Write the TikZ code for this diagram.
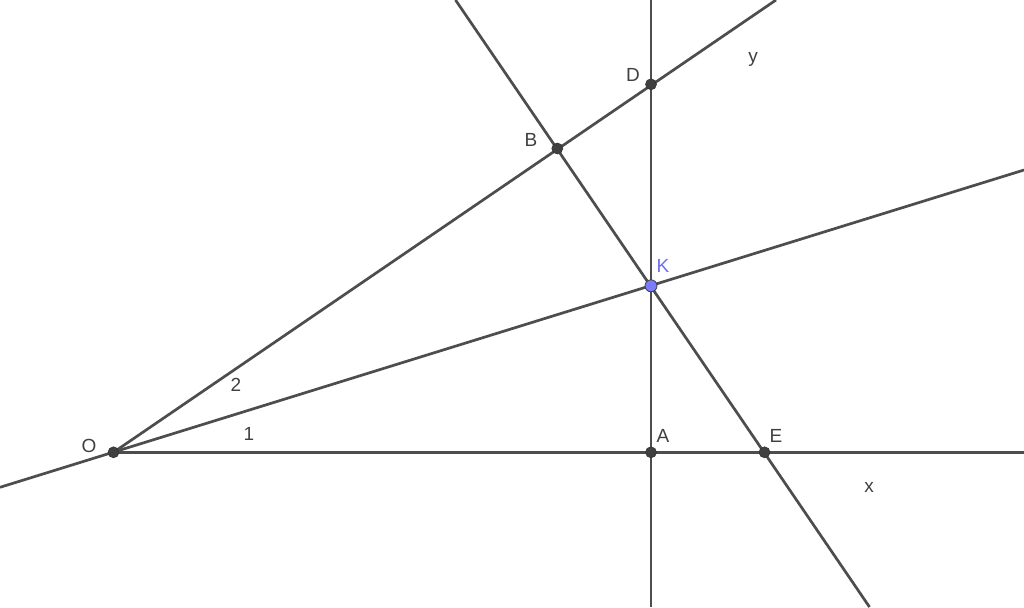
\documentclass[tikz,border=0pt]{standalone}
\usepackage{fontspec}
\setmainfont{Liberation Sans}
\definecolor{ln}{HTML}{4D4D4D}
\definecolor{pt}{HTML}{404040}
\definecolor{kf}{HTML}{7B7BFF}
\definecolor{kt}{HTML}{6D6DF0}
\begin{document}
\begin{tikzpicture}[x=1pt,y=-1pt,
  lineS/.style={draw=ln,line width=2.7pt},
  dotS/.style={circle,fill=pt,draw=black!80,line width=0.6pt,inner sep=0pt,minimum size=11pt},
  kdot/.style={circle,fill=kf,draw=black!75,line width=0.8pt,inner sep=0pt,minimum size=12pt},
  lab/.style={font=\fontsize{19}{19}\selectfont,text=black!75,inner sep=0pt}]
\useasboundingbox (0,0) rectangle (1024,607);
% coordinates
\coordinate (O) at (113.5,452.3);
\coordinate (A) at (651,452.3);
\coordinate (E) at (764.5,452.3);
\coordinate (K) at (651,285.8);
\coordinate (B) at (557.3,148.5);
\coordinate (D) at (651,84.3);
\coordinate (xEnd) at (1024,452.3);
\coordinate (yEnd) at (776,0);
\coordinate (kL) at (0,487.3);
\coordinate (kR) at (1024,170);
\coordinate (vT) at (651,0);
\coordinate (vB) at (651,607);
\coordinate (bT) at (455.5,0);
\coordinate (bB) at (869.5,607);
% lines
\draw[lineS] (O) -- (xEnd);
\draw[lineS] (O) -- (yEnd);
\draw[lineS] (kL) -- (kR);
\draw[lineS] (vT) -- (vB);
\draw[lineS] (bT) -- (bB);
% points
\node[dotS] (nO) at (O) {};
\node[dotS] (nA) at (A) {};
\node[dotS] (nE) at (E) {};
\node[dotS] (nB) at (B) {};
\node[dotS] (nD) at (D) {};
\node[kdot] (nK) at (K) {};
% labels
\node[lab] (lO) at (89,446) {O};
\node[lab] (l2) at (236,385) {2};
\node[lab] (l1) at (249,434) {1};
\node[lab,text=kt] (lK) at (663,266) {K};
\node[lab] (lB) at (531,140) {B};
\node[lab] (lD) at (633,75) {D};
\node[lab] (ly) at (753,59) {y};
\node[lab] (lA) at (663,436) {A};
\node[lab] (lE) at (776,436) {E};
\node[lab] (lx) at (869,487) {x};
\end{tikzpicture}
\end{document}
